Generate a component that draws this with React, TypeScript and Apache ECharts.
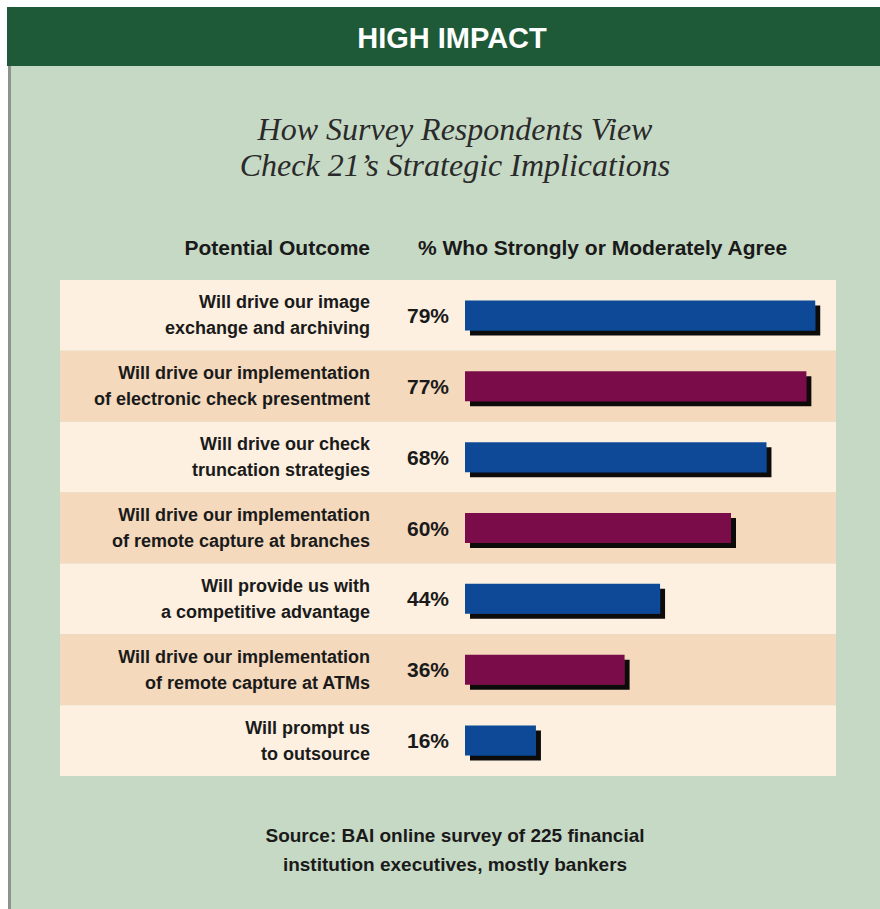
import React, { useEffect, useRef } from "react";
import * as echarts from "echarts";

const categories = [
  "Will drive our image\nexchange and archiving",
  "Will drive our implementation\nof electronic check presentment",
  "Will drive our check\ntruncation strategies",
  "Will drive our implementation\nof remote capture at branches",
  "Will provide us with\na competitive advantage",
  "Will drive our implementation\nof remote capture at ATMs",
  "Will prompt us\nto outsource",
];
const values = [79, 77, 68, 60, 44, 36, 16];
const barColors = ["#0b4a97", "#7a0c48"];
const rowColors = ["#fdf0e0", "#f4d9bd"];
const headerText = "HIGH IMPACT";
const titleText = "How Survey Respondents View\nCheck 21\u2019s Strategic Implications";
const colHeadLeft = "Potential Outcome";
const colHeadRight = "% Who Strongly or Moderately Agree";
const sourceText = "Source: BAI online survey of 225 financial\ninstitution executives, mostly bankers";

const SANS = '"Liberation Sans", Arial, sans-serif';
const SERIF = '"Liberation Serif", "DejaVu Serif", serif';

export default function App() {
  const ref = useRef<HTMLDivElement>(null);
  useEffect(() => {
    if (!ref.current) return;
    const chart = echarts.init(ref.current, undefined, { renderer: "svg" });
    chart.setOption({
      animation: false,
      backgroundColor: "#ffffff",
      graphic: [
        { type: "rect", z: -10, shape: { x: 9, y: 7, width: 871, height: 902 }, style: { fill: "#c6d9c5" } },
        { type: "rect", z: -9, shape: { x: 7, y: 7, width: 873, height: 59 }, style: { fill: "#1e5a37" } },
        { type: "rect", z: -9, shape: { x: 8, y: 66, width: 3, height: 843 }, style: { fill: "#8c948c" } },
        {
          type: "text", z: 10,
          style: { text: headerText, x: 452, y: 38, textAlign: "center", textVerticalAlign: "middle", fill: "#ffffff", font: `bold 29px ${SANS}` },
        },
        {
          type: "text", z: 10,
          style: { text: titleText, x: 455, y: 147, textAlign: "center", textVerticalAlign: "middle", fill: "#2a2a2a", font: `italic 32px ${SERIF}`, lineHeight: 36 },
        },
        {
          type: "text", z: 10,
          style: { text: colHeadLeft, x: 370, y: 247, textAlign: "right", textVerticalAlign: "middle", fill: "#1a1a1a", font: `bold 21px ${SANS}` },
        },
        {
          type: "text", z: 10,
          style: { text: colHeadRight, x: 418, y: 247, textAlign: "left", textVerticalAlign: "middle", fill: "#1a1a1a", font: `bold 21px ${SANS}` },
        },
        {
          type: "text", z: 10,
          style: { text: sourceText, x: 455, y: 850, textAlign: "center", textVerticalAlign: "middle", fill: "#1a1a1a", font: `bold 19px ${SANS}`, lineHeight: 29 },
        },
      ],
      grid: [
        { left: 60, top: 280, width: 776, height: 496 },
        { left: 465, top: 280, width: 399, height: 496 },
      ],
      xAxis: [
        { gridIndex: 0, type: "value", min: 0, max: 1, show: false },
        { gridIndex: 1, type: "value", min: 0, max: 90, show: false },
      ],
      yAxis: [
        {
          gridIndex: 0, type: "category", inverse: true, data: categories,
          axisLabel: { show: false }, axisLine: { show: false }, axisTick: { show: false },
          splitLine: { show: false },
          splitArea: { show: true, areaStyle: { color: rowColors, opacity: 1 } },
        },
        {
          gridIndex: 1, type: "category", inverse: true, data: categories,
          axisLine: { show: false }, axisTick: { show: false }, splitLine: { show: false },
          axisLabel: {
            margin: 95, align: "right", color: "#1a1a1a", fontFamily: SANS,
            fontWeight: "bold", fontSize: 18, lineHeight: 26,
          },
        },
      ],
      series: [
        {
          type: "bar", xAxisIndex: 1, yAxisIndex: 1, barWidth: 30,
          data: values.map((v, i) => ({ value: v, itemStyle: { color: barColors[i % 2] } })),
          itemStyle: { shadowColor: "rgba(0,0,0,0.95)", shadowOffsetX: 5, shadowOffsetY: 5, shadowBlur: 1 },
          label: {
            show: true, position: "left", distance: 16, formatter: "{c}%",
            color: "#1a1a1a", fontFamily: SANS, fontWeight: "bold", fontSize: 21,
          },
        },
      ],
    });
    return () => chart.dispose();
  }, []);
  return <div ref={ref} style={{ position: "fixed", left: 0, top: 0, width: 880, height: 909 }} />;
}
